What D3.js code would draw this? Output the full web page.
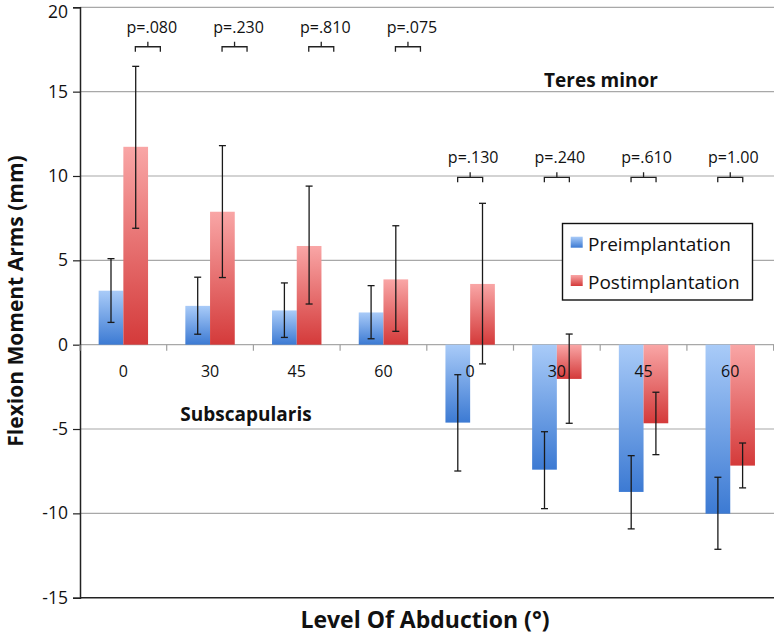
<!DOCTYPE html>
<html>
<head>
<meta charset="utf-8">
<script src="https://cdn.jsdelivr.net/npm/d3@7"></script>
<style>
  html, body { margin: 0; padding: 0; background: #fff; }
  svg { display: block; font-family: "Open Sans", "DejaVu Sans", sans-serif; }
</style>
</head>
<body>
<svg id="chart" width="774" height="641"></svg>
<script>
// ---- data ----
const categories = ["0", "30", "45", "60", "0", "30", "45", "60"];
const seriesNames = ["Preimplantation", "Postimplantation"];
const preValues  = [3.2, 2.3, 2.03, 1.91, -4.62, -7.41, -8.73, -10.02];
const postValues = [11.73, 7.88, 5.85, 3.87, 3.6, -2.03, -4.66, -7.17];
const preLow   = [1.32, 0.62, 0.43, 0.35, -7.49, -9.72, -10.92, -12.13];
const preHigh  = [5.1, 4.0, 3.66, 3.5, -1.78, -5.16, -6.58, -7.86];
const postLow  = [6.9, 3.98, 2.41, 0.79, -1.14, -4.66, -6.52, -8.49];
const postHigh = [16.5, 11.8, 9.4, 7.05, 8.38, 0.63, -2.82, -5.83];
const pLabels = ["p=.080", "p=.230", "p=.810", "p=.075", "p=.130", "p=.240", "p=.610", "p=1.00"];
const yTicks = [-15, -10, -5, 0, 5, 10, 15, 20];
const groupNames = ["Subscapularis", "Teres minor"];

// ---- layout ----
const svg = d3.select("#chart");
const plotLeft = 80, plotRight = 773.6, plotTop = 7.3, plotBottom = 597.7;

const y = d3.scaleLinear().domain([-15, 20]).range([plotBottom, plotTop]);
const x = d3.scaleBand().domain(d3.range(categories.length)).range([plotLeft, plotRight])
  .paddingInner(0.43).paddingOuter(0.215);
const xs = d3.scaleBand().domain([0, 1]).range([0, x.bandwidth()]);

const colors = [
  { light: "#a9cbf8", dark: "#3c7ad3" },
  { light: "#f9a6a6", dark: "#d43a3a" }
];
const defs = svg.append("defs");
colors.forEach((c, i) => {
  const g = defs.append("linearGradient").attr("id", "grad" + i)
    .attr("x1", 0).attr("y1", 0).attr("x2", 0).attr("y2", 1);
  g.append("stop").attr("offset", "0%").attr("stop-color", c.light);
  g.append("stop").attr("offset", "100%").attr("stop-color", c.dark);
});

// gridlines
svg.append("g").selectAll("line").data(yTicks.filter(t => t !== -15)).join("line")
  .attr("x1", plotLeft).attr("x2", 774)
  .attr("y1", d => y(d)).attr("y2", d => y(d))
  .attr("stroke", "#a8a8a8").attr("stroke-width", 1.2);

// y axis
const yAxis = svg.append("g").attr("transform", `translate(${plotLeft},0)`)
  .call(d3.axisLeft(y).tickValues(yTicks).tickFormat(d => String(d)).tickSize(7).tickPadding(5));
yAxis.select(".domain").attr("stroke", "#222").attr("stroke-width", 1.5);
yAxis.selectAll(".tick line").attr("stroke", "#222").attr("stroke-width", 1.2);
yAxis.selectAll(".tick text").attr("font-size", 17.5).attr("fill", "#111")
  .attr("font-family", "'Open Sans', sans-serif")
  .attr("y", d => d === 20 ? 4.5 : 0);

// bottom line at -15
svg.append("line").attr("x1", plotLeft).attr("x2", 774)
  .attr("y1", y(-15)).attr("y2", y(-15)).attr("stroke", "#222").attr("stroke-width", 1.6);

// category ticks on zero line
const boundaries = d3.range(categories.length + 1).map(i => plotLeft + i * x.step());
svg.append("g").selectAll("line").data(boundaries).join("line")
  .attr("x1", d => d).attr("x2", d => d)
  .attr("y1", y(0)).attr("y2", y(0) + 6)
  .attr("stroke", "#a0a0a0").attr("stroke-width", 1.2);

// bars
const seriesVals = [preValues, postValues];
const seriesLow = [preLow, postLow];
const seriesHigh = [preHigh, postHigh];
seriesVals.forEach((vals, s) => {
  svg.append("g").selectAll("rect").data(vals).join("rect")
    .attr("x", (d, i) => x(i) + xs(s))
    .attr("width", xs.bandwidth())
    .attr("y", d => y(Math.max(0, d)))
    .attr("height", d => Math.abs(y(d) - y(0)))
    .attr("fill", `url(#grad${s})`);
});

// category labels
svg.append("g").selectAll("text").data(categories).join("text")
  .attr("x", (d, i) => x(i) + x.bandwidth() / 2)
  .attr("y", y(0) + 32)
  .attr("text-anchor", "middle").attr("font-size", 16).attr("fill", "#111")
  .text(d => d);

// error bars
seriesVals.forEach((vals, s) => {
  const g = svg.append("g").attr("stroke", "#1a1a1a").attr("stroke-width", 1.3);
  vals.forEach((v, i) => {
    const cx = x(i) + xs(s) + xs.bandwidth() / 2;
    const lo = seriesLow[s][i], hi = seriesHigh[s][i];
    g.append("line").attr("x1", cx).attr("x2", cx).attr("y1", y(lo)).attr("y2", y(hi));
    g.append("line").attr("x1", cx - 3.5).attr("x2", cx + 3.5).attr("y1", y(lo)).attr("y2", y(lo));
    g.append("line").attr("x1", cx - 3.5).attr("x2", cx + 3.5).attr("y1", y(hi)).attr("y2", y(hi));
  });
});

// p-value brackets
pLabels.forEach((p, i) => {
  const isLeft = i < 4;
  const bc = x(i) + x.bandwidth() / 2 + (isLeft ? 24.5 : 0);
  const tc = x(i) + x.bandwidth() / 2 + (isLeft ? 28.5 : 3);
  const yh = isLeft ? y(17.66) : y(9.92);
  const hw = 12.5;
  svg.append("path")
    .attr("d", `M${bc - hw},${yh + 5}V${yh}H${bc + hw}V${yh + 5}M${bc},${yh}V${yh - 5}`)
    .attr("fill", "none").attr("stroke", "#222").attr("stroke-width", 1.3);
  svg.append("text").attr("x", tc).attr("y", yh - 14)
    .attr("text-anchor", "middle").attr("font-size", 16).attr("fill", "#111").text(p);
});

// group names
svg.append("text").attr("x", 246).attr("y", 421).attr("text-anchor", "middle")
  .attr("font-size", 19).attr("font-weight", "bold").attr("fill", "#111").text(groupNames[0]);
svg.append("text").attr("x", 601).attr("y", 87).attr("text-anchor", "middle")
  .attr("font-size", 19).attr("font-weight", "bold").attr("fill", "#111").text(groupNames[1]);

// legend
const lg = svg.append("g");
lg.append("rect").attr("x", 562.5).attr("y", 223.5).attr("width", 190).attr("height", 76.5)
  .attr("fill", "#fff").attr("stroke", "#111").attr("stroke-width", 1.4);
seriesNames.forEach((n, i) => {
  const yy = 236.7 + i * 38.3;
  lg.append("rect").attr("x", 570.7).attr("y", yy).attr("width", 12).attr("height", 11)
    .attr("fill", `url(#grad${i})`);
  lg.append("text").attr("x", 588).attr("y", yy + 14).attr("font-size", 19)
    .attr("fill", "#111").text(n);
});

// axis titles
svg.append("text").attr("x", 425).attr("y", 628).attr("text-anchor", "middle")
  .attr("font-size", 23).attr("font-weight", "bold").attr("fill", "#111")
  .text("Level Of Abduction (°)");
svg.append("text").attr("transform", "translate(23,301) rotate(-90)")
  .attr("text-anchor", "middle").attr("font-size", 21).attr("font-weight", "bold").attr("fill", "#111")
  .text("Flexion Moment Arms (mm)");
</script>
</body>
</html>
